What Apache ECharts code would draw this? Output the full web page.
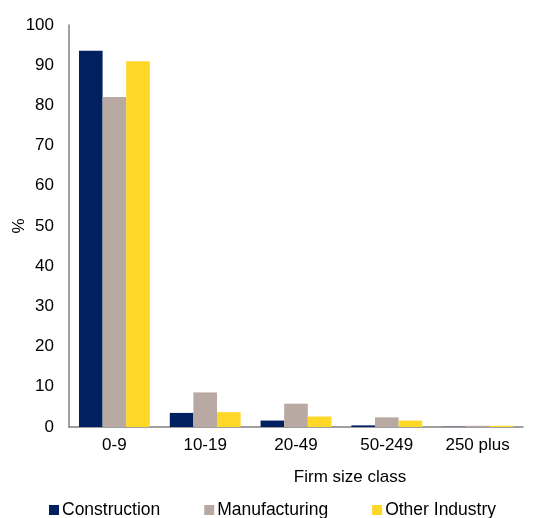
<!DOCTYPE html>
<html>
<head>
<meta charset="utf-8">
<script src="https://cdn.jsdelivr.net/npm/echarts@6/dist/echarts.min.js"></script>
<style>html,body{margin:0;padding:0;background:#fff}#c{width:535px;height:518px}</style>
</head>
<body>
<div id="c"></div>
<script>
const categories = ['0-9', '10-19', '20-49', '50-249', '250 plus'];
const construction = [93.6, 3.5, 1.6, 0.4, 0.05];
const manufacturing = [82.1, 8.6, 5.8, 2.4, 0.3];
const otherIndustry = [91.0, 3.7, 2.6, 1.6, 0.3];
const seriesNames = ['Construction', 'Manufacturing', 'Other Industry'];
const colors = ['#002060', '#B8AAA3', '#FFD726'];

const font = 'Liberation Sans, Arial, sans-serif';
const chart = echarts.init(document.getElementById('c'));
const dataSets = [construction, manufacturing, otherIndustry];
chart.setOption({
  animation: false,
  color: colors,
  textStyle: { fontFamily: font },
  grid: { left: 69, right: 12, top: 25, bottom: 91, outerBoundsMode: 'none', containLabel: false },
  legend: {
    top: 496, left: 44, itemGap: 44, itemWidth: 10, itemHeight: 10,
    icon: 'rect',
    textStyle: { fontSize: 17.5, color: '#000', fontFamily: font, padding: [0, 0, 0, -2] },
    data: seriesNames
  },
  xAxis: {
    type: 'category', data: categories,
    name: 'Firm size class', nameLocation: 'middle', nameGap: 42, nameMoveOverlap: false,
    nameTextStyle: { fontSize: 17, color: '#000', fontFamily: font, padding: [0, 0, 0, 108] },
    axisLine: { lineStyle: { color: '#808080', width: 1.5 } },
    axisTick: { show: false },
    axisLabel: { fontSize: 17, color: '#000', margin: 10, fontFamily: font }
  },
  yAxis: {
    type: 'value', min: 0, max: 100, interval: 10,
    name: '%', nameLocation: 'middle', nameGap: 41, nameRotate: 90, nameMoveOverlap: false,
    nameTextStyle: { fontSize: 17, color: '#000', fontFamily: font },
    axisLine: { show: true, lineStyle: { color: '#808080', width: 1.5 } },
    axisTick: { show: false },
    splitLine: { show: false },
    axisLabel: { fontSize: 17, color: '#000', margin: 15, fontFamily: font }
  },
  series: seriesNames.map((n, i) => ({
    name: n, type: 'bar', data: dataSets[i],
    barGap: '0%', barCategoryGap: '22%'
  }))
});
</script>
</body>
</html>
